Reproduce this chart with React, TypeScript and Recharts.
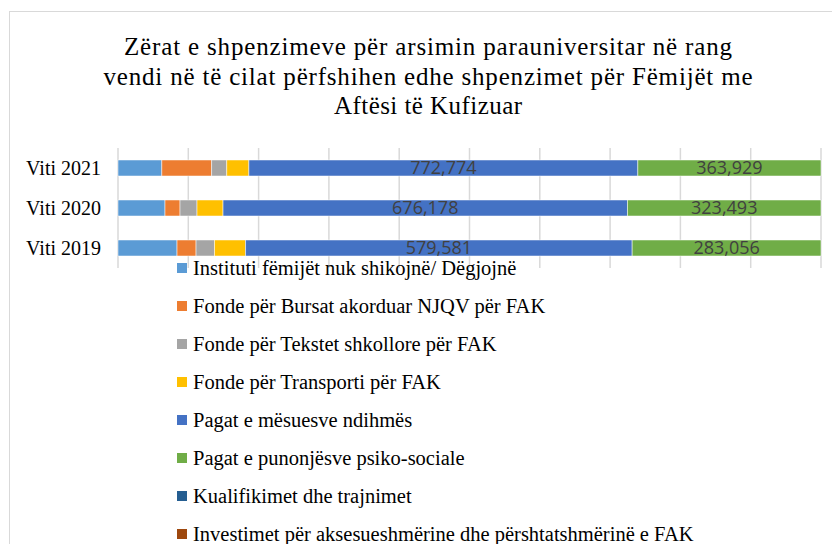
import { BarChart, Bar, XAxis, YAxis, CartesianGrid, Legend, LabelList } from 'recharts'

// Years as they appear from top to bottom
const YEARS = ['Viti 2021', 'Viti 2020', 'Viti 2019']

// Values per series, same order as YEARS (small segments)
const INSTITUTI = [87000, 78600, 88500]
const BURSAT = [99000, 25100, 28500]
const TEKSTET = [30000, 28400, 27700]
const TRANSPORTI = [44000, 43500, 46500]
const PAGAT_MESUESVE = [772774, 676178, 579581]
const PAGAT_PUNONJESVE = [363929, 323493, 283056]
const KUALIFIKIMET = [0, 0, 0]
const INVESTIMET = [0, 0, 0]

const TITLE_LINES = [
  'Zërat e shpenzimeve për arsimin parauniversitar në rang',
  'vendi në të cilat përfshihen edhe shpenzimet për Fëmijët me',
  'Aftësi të Kufizuar',
]
// the original title is justified loosely, so each line is stretched to its width
const TITLE_WIDTHS = [608, 649, 188]

// share of the total, used only for the gridlines
const GRID_TICKS = [0, 0.1, 0.2, 0.3, 0.4, 0.5, 0.6, 0.7, 0.8, 0.9, 1]

const SERIES = [
  { key: 'instituti', name: 'Instituti fëmijët nuk shikojnë/ Dëgjojnë', color: '#5B9BD5', values: INSTITUTI, label: false },
  { key: 'bursat', name: 'Fonde për Bursat akorduar NJQV për FAK', color: '#ED7D31', values: BURSAT, label: false },
  { key: 'tekstet', name: 'Fonde për Tekstet shkollore për FAK', color: '#A5A5A5', values: TEKSTET, label: false },
  { key: 'transporti', name: 'Fonde për Transporti për FAK', color: '#FFC000', values: TRANSPORTI, label: false },
  { key: 'mesuesve', name: 'Pagat e mësuesve ndihmës', color: '#4472C4', values: PAGAT_MESUESVE, label: true },
  { key: 'punonjesve', name: 'Pagat e punonjësve psiko-sociale', color: '#70AD47', values: PAGAT_PUNONJESVE, label: true },
  { key: 'kualifikimet', name: 'Kualifikimet dhe trajnimet', color: '#255E91', values: KUALIFIKIMET, label: false },
  { key: 'investimet', name: 'Investimet për aksesueshmërine dhe përshtatshmërinë e FAK', color: '#9E480E', values: INVESTIMET, label: false },
]

const data = YEARS.map((year, i) => {
  const row: Record<string, any> = { year }
  SERIES.forEach((s) => (row[s.key] = s.values[i]))
  return row
})

const SERIF = 'Liberation Serif, Times New Roman, serif'
const ITEM_H = 38

const renderLegend = () => (
  <svg width={700} height={ITEM_H * SERIES.length} style={{ display: 'block' }}>
    {SERIES.map((s, i) => (
      <g key={s.key}>
        <rect x={0} y={i * ITEM_H + 13} width={10} height={10} fill={s.color} />
        <text x={16} y={i * ITEM_H + 25} fontFamily={SERIF} fontSize={20.5} fill="#000">
          {s.name}
        </text>
      </g>
    ))}
  </svg>
)

export default function App() {
  return (
    <div
      style={{
        position: 'absolute',
        left: 0,
        top: 0,
        width: 832,
        height: 544,
        overflow: 'hidden',
        background: '#fff',
      }}
    >
      <div
        style={{
          position: 'absolute',
          left: 9,
          top: 11,
          width: 900,
          height: 600,
          border: '1px solid #d9d9d9',
        }}
      />
      <svg width={832} height={130} style={{ position: 'absolute', left: 0, top: 0 }}>
        {TITLE_LINES.map((line, i) => (
          <text
            key={line}
            x={428}
            y={55 + i * 29.5}
            textAnchor="middle"
            textLength={TITLE_WIDTHS[i]}
            lengthAdjust="spacing"
            fontFamily={SERIF}
            fontSize={25}
            fill="#000"
          >
            {line}
          </text>
        ))}
      </svg>
      <div style={{ position: 'absolute', left: 0, top: 0 }}>
        <BarChart
          width={832}
          height={544}
          data={data}
          layout="vertical"
          stackOffset="expand"
          margin={{ top: 148, right: 11, bottom: 276, left: 18 }}
        >
          <CartesianGrid horizontal={false} stroke="#d9d9d9" strokeWidth={1.5} />
          <XAxis type="number" domain={[0, 1]} ticks={GRID_TICKS} hide />
          <YAxis
            type="category"
            dataKey="year"
            width={100}
            axisLine={false}
            tickLine={false}
            tickMargin={11}
            tick={{ fill: '#000', fontSize: 20, fontFamily: SERIF }}
          />
          <Legend
            layout="vertical"
            align="center"
            verticalAlign="middle"
            content={renderLegend}
            wrapperStyle={{ left: 177, top: 250, width: 'auto' }}
          />
          {SERIES.map((s) => (
            <Bar
              key={s.key}
              dataKey={s.key}
              name={s.name}
              stackId="a"
              fill={s.color}
              barSize={16}
              stroke="#fff"
              strokeWidth={0.5}
              isAnimationActive={false}
            >
              {s.label && (
                <LabelList
                  dataKey={s.key}
                  position="center"
                  formatter={(v: any) => Number(v).toLocaleString('en-US')}
                  style={{ fill: '#404040', fontSize: 18, fontFamily: 'Open Sans, sans-serif' }}
                />
              )}
            </Bar>
          ))}
        </BarChart>
      </div>
    </div>
  )
}
